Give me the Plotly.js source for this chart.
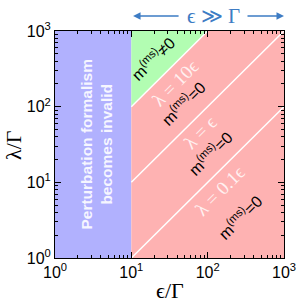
<!DOCTYPE html>
<html>
<head>
<meta charset="utf-8">
<script src="https://cdn.plot.ly/plotly-3.0.1.min.js"></script>
<style>html,body{margin:0;padding:0;background:#fff;}#chart{width:300px;height:305px;}</style>
</head>
<body>
<div id="chart"></div>
<script>
// ---- data ----
const axisMin = 1;
const axisMax = 1000;
const validityLimit = 10;            // ε/Γ below this: perturbation invalid
const lineRatios = [10, 1, 0.1];     // λ = r·ε boundary lines
const lineLabels = ['λ = 10ϵ', 'λ = ϵ', 'λ = 0.1ϵ'];
const tickValues = [1, 10, 100, 1000];
const tickLabels = ['10<sup>0</sup>', '10<sup>1</sup>', '10<sup>2</sup>', '10<sup>3</sup>'];
// label anchor positions (ε/Γ, λ/Γ)
const lineLabelX = [37, 80, 145];
const lineLabelY = [205, 45, 7.9];
const massLabelText = ['m<sup>(ms)</sup>≠0', 'm<sup>(ms)</sup>=0', 'm<sup>(ms)</sup>=0', 'm<sup>(ms)</sup>=0'];
const massLabelX = [19.2, 47.6, 107, 263];
const massLabelY = [437, 112, 24.5, 3.47];

const blue = '#b1b1fe';
const green = '#b2fdb2';
const pink = '#feb2b2';
const arrowBlue = '#3d7cc4';
const serif = 'Liberation Serif, DejaVu Serif, serif';
const sans = 'Liberation Sans, Arial, sans-serif';

const traces = [];
// invalid region
traces.push({x:[axisMin, validityLimit, validityLimit, axisMin], y:[axisMin, axisMin, axisMax, axisMax],
  mode:'lines', fill:'toself', fillcolor:blue, line:{width:0}, hoverinfo:'skip', showlegend:false});
// region above λ = 10ε (m ≠ 0)
const topR = lineRatios[0];
traces.push({x:[validityLimit, axisMax/topR, validityLimit], y:[validityLimit*topR, axisMax, axisMax],
  mode:'lines', fill:'toself', fillcolor:green, line:{width:0}, hoverinfo:'skip', showlegend:false});
// region below λ = 10ε (m = 0)
traces.push({x:[validityLimit, axisMax, axisMax, axisMax/topR, validityLimit], y:[axisMin, axisMin, axisMax, axisMax, validityLimit*topR],
  mode:'lines', fill:'toself', fillcolor:pink, line:{width:0}, hoverinfo:'skip', showlegend:false});
// boundary lines
lineRatios.forEach(r => {
  const x0 = Math.max(validityLimit, axisMin / r);
  const x1 = Math.min(axisMax, axisMax / r);
  traces.push({x:[x0, x1], y:[r*x0, r*x1], mode:'lines', line:{color:'#ffffff', width:1.5},
    hoverinfo:'skip', showlegend:false});
});

const annotations = [];
lineLabels.forEach((t, i) => {
  annotations.push({x:Math.log10(lineLabelX[i]), y:Math.log10(lineLabelY[i]), xref:'x', yref:'y', text:t,
    showarrow:false, textangle:-45, font:{family:serif, size:19, color:'#fff0f0'}});
});
massLabelText.forEach((t, i) => {
  annotations.push({x:Math.log10(massLabelX[i]), y:Math.log10(massLabelY[i]), xref:'x', yref:'y', text:t,
    showarrow:false, textangle:-45, font:{family:sans, size:16, color:'#000'}});
});
annotations.push({x:Math.log10(3.45), y:Math.log10(31.6), xref:'x', yref:'y',
  text:'<b>Perturbation formalism<br>becomes invalid</b>', showarrow:false, textangle:-90,
  font:{family:sans, size:15.5, color:'#f6f6ff'}});
// ε ≫ Γ header
annotations.push({x:0.69, y:1.066, xref:'paper', yref:'paper', xanchor:'center', yanchor:'middle',
  text:'ϵ ≫ Γ', showarrow:false, font:{family:serif, size:21, color:arrowBlue}});
annotations.push({x:0.341, y:1.066, xref:'paper', yref:'paper', text:'', showarrow:true, ax:47, ay:0,
  arrowhead:2, arrowsize:1, arrowwidth:1.5, arrowcolor:arrowBlue});
annotations.push({x:1.0, y:1.066, xref:'paper', yref:'paper', text:'', showarrow:true, ax:-38, ay:0,
  arrowhead:2, arrowsize:1, arrowwidth:1.5, arrowcolor:arrowBlue});
// axis titles
annotations.push({x:0.5, y:-0.145, xref:'paper', yref:'paper', xanchor:'center', yanchor:'middle',
  text:'ϵ/Γ', showarrow:false, font:{family:serif, size:22, color:'#000'}});
annotations.push({x:-0.179, y:0.498, xref:'paper', yref:'paper', xanchor:'center', yanchor:'middle',
  text:'λ/Γ', showarrow:false, textangle:-90, font:{family:serif, size:22, color:'#000'}});

const axisCommon = {
  type:'log', range:[Math.log10(axisMin), Math.log10(axisMax)],
  tickvals:tickValues, ticktext:tickLabels,
  ticks:'inside', ticklen:6, tickwidth:1, tickcolor:'#000',
  minor:{ticks:'inside', ticklen:3, tickwidth:1, tickcolor:'#000', dtick:'D1', showgrid:false},
  showline:true, linecolor:'#000', linewidth:1, mirror:'ticks',
  showgrid:false, zeroline:false,
  tickfont:{family:sans, size:16, color:'#000'},
  fixedrange:true
};

const layout = {
  width:300, height:305,
  margin:{l:55, r:16, t:31, b:47},
  paper_bgcolor:'#fff', plot_bgcolor:'#fff',
  xaxis:Object.assign({}, axisCommon),
  yaxis:Object.assign({}, axisCommon),
  annotations:annotations,
  showlegend:false
};

Plotly.newPlot('chart', traces, layout, {displayModeBar:false, staticPlot:true});
</script>
</body>
</html>
